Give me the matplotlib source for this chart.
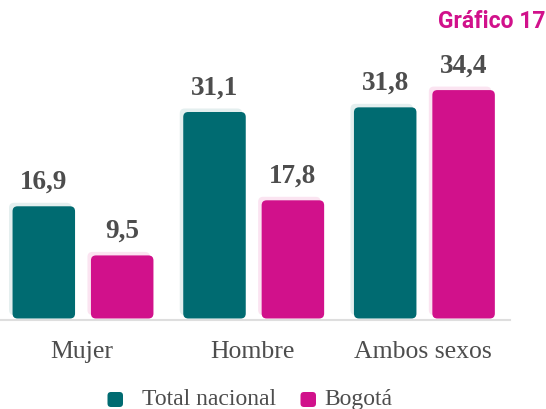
import matplotlib.pyplot as plt
import numpy as np
from matplotlib.patches import FancyBboxPatch

categories = ["Mujer", "Hombre", "Ambos sexos"]
series_names = ["Total nacional", "Bogotá"]
total_nacional = [16.9, 31.1, 31.8]
bogota = [9.5, 17.8, 34.4]
value_labels = [["16,9", "31,1", "31,8"], ["9,5", "17,8", "34,4"]]

colors = ["#006b71", "#d1118b"]
halo_colors = ["#e4efef", "#fbe4f1"]
text_color = "#4d4d4d"
serif = ["Liberation Serif", "DejaVu Serif"]

W, H = 546, 409
fig = plt.figure(figsize=(W / 100, H / 100), dpi=100)

# axes: baseline at y=318.5 px, 6.64 px per unit
px_per_unit = 6.64
base_px = 318.5
ymin, ymax = -2, 40
ax_bottom = (H - base_px - 2 * px_per_unit) / H
ax_height = (ymax - ymin) * px_per_unit / H
ax = fig.add_axes([0, ax_bottom, 1, ax_height])

group_px = 170.7
x_left = -83 / group_px
x_right = x_left + W / group_px
ax.set_xlim(x_left, x_right)
ax.set_ylim(ymin, ymax)
ax.axis("off")

bar_w = 62.5 / group_px
offset = 39.2 / group_px
aspect = group_px / px_per_unit
rnd = 5 / group_px
dx_halo = 3.5 / group_px
dy_halo = 3.5 / px_per_unit

x = np.arange(len(categories))
for s, values in enumerate([total_nacional, bogota]):
    for i, v in enumerate(values):
        xc = x[i] + (2 * s - 1) * offset
        for col, dx, dy, z in [(halo_colors[s], -dx_halo, dy_halo, 1), (colors[s], 0, 0, 2)]:
            p = FancyBboxPatch(
                (xc - bar_w / 2 + dx, dy),
                bar_w,
                v,
                boxstyle=f"round,pad=0,rounding_size={rnd}",
                mutation_aspect=aspect,
                facecolor=col,
                edgecolor="none",
                zorder=z,
            )
            ax.add_patch(p)
        ax.annotate(
            value_labels[s][i],
            (xc, v),
            xytext=(0, 12.5),
            textcoords="offset points",
            ha="center",
            va="baseline",
            fontsize=19.5,
            fontweight="bold",
            family=serif,
            color=text_color,
        )

ax.axhline(-1.2 / px_per_unit, xmin=0, xmax=510 / W, color="#dedede",
           linewidth=1.5, zorder=0)

# category labels at group centres
for i, cat in enumerate(categories):
    ax.annotate(
        cat,
        (x[i], 0),
        xytext=(-1, -39.5 / 1.389),
        textcoords="offset points",
        ha="center",
        va="baseline",
        fontsize=18.5,
        family=serif,
        color=text_color,
        annotation_clip=False,
    )

# legend, drawn by hand for rounded swatches
legend_marker_px = [107.5, 300.5]
legend_text_px = [141.5, 324]
for k, name in enumerate(series_names):
    sw = FancyBboxPatch(
        (legend_marker_px[k] / W, 1 - 407 / H),
        15.5 / W,
        15 / H,
        boxstyle=f"round,pad=0,rounding_size={3.5 / W}",
        mutation_aspect=W / H,
        transform=fig.transFigure,
        facecolor=colors[k],
        edgecolor="none",
    )
    fig.add_artist(sw)
    fig.text(
        legend_text_px[k] / W,
        1 - 405 / H,
        name,
        ha="left",
        va="baseline",
        fontsize=17,
        family=serif,
        color=text_color,
    )

fig.text(
    546 / W,
    1 - 27.7 / H,
    "Gráfico 17",
    ha="right",
    va="baseline",
    fontsize=16.5,
    fontweight="bold",
    family="Roboto",
    color="#d1118b",
)

fig.savefig("out.png", dpi=100)
